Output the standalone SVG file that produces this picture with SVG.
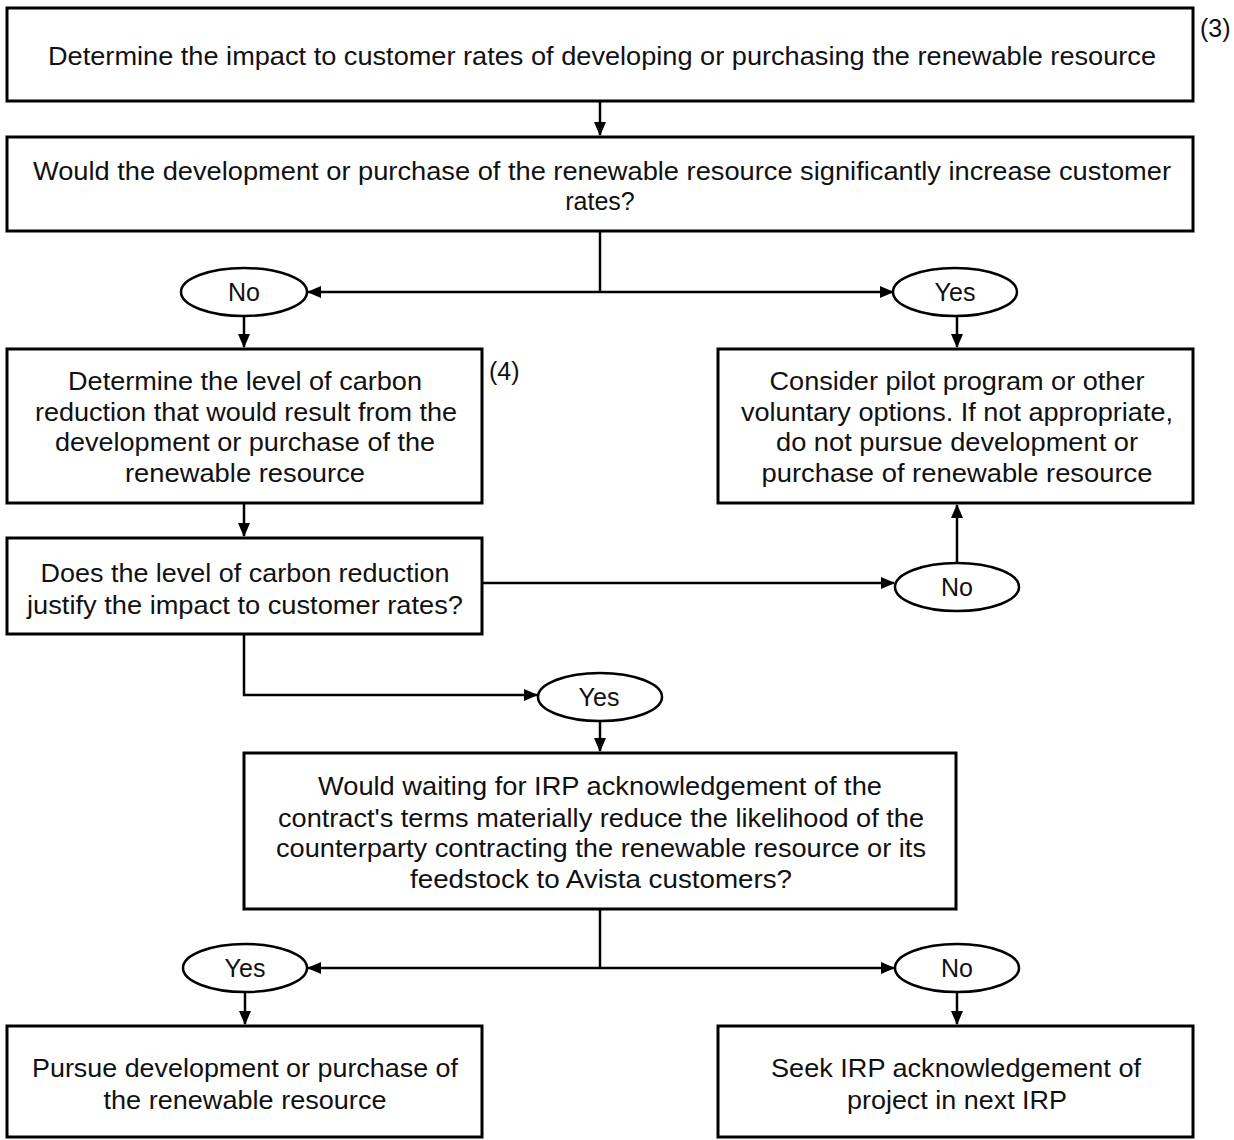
<svg xmlns="http://www.w3.org/2000/svg" width="1234" height="1140" viewBox="0 0 1234 1140">
<style>
.box{fill:#fff;stroke:#000;stroke-width:3}
.oval{fill:#fff;stroke:#000;stroke-width:2.5}
.t{font-family:"Liberation Sans",Arial,sans-serif;font-size:25px;fill:#111;text-anchor:middle}
.n{font-family:"Liberation Sans",Arial,sans-serif;font-size:25px;fill:#111}
.c{fill:none;stroke:#000;stroke-width:2.5}
</style>
<defs>
<marker id="ah" markerUnits="userSpaceOnUse" markerWidth="14" markerHeight="12" refX="13" refY="6" orient="auto">
<path d="M0,0 L14,6 L0,12 Z" fill="#000"/>
</marker>
</defs>
<rect width="1234" height="1140" fill="#fff"/>
<g id="connectors">
<path class="c" d="M600,101 V135" marker-end="url(#ah)"/>
<path class="c" d="M600,231 V292"/>
<path class="c" d="M600,292 H308" marker-end="url(#ah)"/>
<path class="c" d="M600,292 H893" marker-end="url(#ah)"/>
<path class="c" d="M244,316 V347" marker-end="url(#ah)"/>
<path class="c" d="M957,316 V347" marker-end="url(#ah)"/>
<path class="c" d="M244,503 V536" marker-end="url(#ah)"/>
<path class="c" d="M482,583 H894" marker-end="url(#ah)"/>
<path class="c" d="M957,563 V505" marker-end="url(#ah)"/>
<path class="c" d="M244,634 V695 H537" marker-end="url(#ah)"/>
<path class="c" d="M600,721 V751" marker-end="url(#ah)"/>
<path class="c" d="M600,909 V968"/>
<path class="c" d="M600,968 H308" marker-end="url(#ah)"/>
<path class="c" d="M600,968 H894" marker-end="url(#ah)"/>
<path class="c" d="M245,992 V1024" marker-end="url(#ah)"/>
<path class="c" d="M957,992 V1024" marker-end="url(#ah)"/>
</g>
<g id="n1">
<rect class="box" x="7" y="8" width="1186" height="93"/>
<text class="t" x="602" y="65" textLength="1108" lengthAdjust="spacingAndGlyphs">Determine the impact to customer rates of developing or purchasing the renewable resource</text>
<text class="n" x="1200" y="37">(3)</text>
</g>
<g id="n2">
<rect class="box" x="7" y="137" width="1186" height="94"/>
<text class="t" x="602" y="180" textLength="1138" lengthAdjust="spacingAndGlyphs">Would the development or purchase of the renewable resource significantly increase customer</text>
<text class="t" x="600" y="210">rates?</text>
</g>
<g id="o1">
<ellipse class="oval" cx="244" cy="292" rx="63" ry="24"/>
<text class="t" x="244" y="301">No</text>
</g>
<g id="o2">
<ellipse class="oval" cx="955" cy="292" rx="62" ry="24"/>
<text class="t" x="955" y="301">Yes</text>
</g>
<g id="n3">
<rect class="box" x="7" y="349" width="475" height="154"/>
<text class="t" x="245" y="390" textLength="354" lengthAdjust="spacingAndGlyphs">Determine the level of carbon</text>
<text class="t" x="246" y="421" textLength="422" lengthAdjust="spacingAndGlyphs">reduction that would result from the</text>
<text class="t" x="245" y="451" textLength="380" lengthAdjust="spacingAndGlyphs">development or purchase of the</text>
<text class="t" x="245" y="482" textLength="240" lengthAdjust="spacingAndGlyphs">renewable resource</text>
<text class="n" x="489" y="380">(4)</text>
</g>
<g id="n4">
<rect class="box" x="718" y="349" width="475" height="154"/>
<text class="t" x="957" y="390" textLength="375" lengthAdjust="spacingAndGlyphs">Consider pilot program or other</text>
<text class="t" x="957" y="421" textLength="432" lengthAdjust="spacingAndGlyphs">voluntary options. If not appropriate,</text>
<text class="t" x="957" y="451" textLength="362" lengthAdjust="spacingAndGlyphs">do not pursue development or</text>
<text class="t" x="957" y="482" textLength="391" lengthAdjust="spacingAndGlyphs">purchase of renewable resource</text>
</g>
<g id="n5">
<rect class="box" x="7" y="538" width="475" height="96"/>
<text class="t" x="245" y="582" textLength="409" lengthAdjust="spacingAndGlyphs">Does the level of carbon reduction</text>
<text class="t" x="245" y="614" textLength="436" lengthAdjust="spacingAndGlyphs">justify the impact to customer rates?</text>
</g>
<g id="o3">
<ellipse class="oval" cx="957" cy="587" rx="62" ry="24"/>
<text class="t" x="957" y="596">No</text>
</g>
<g id="o4">
<ellipse class="oval" cx="600" cy="697" rx="62" ry="24"/>
<text class="t" x="599" y="706">Yes</text>
</g>
<g id="n6">
<rect class="box" x="244" y="753" width="712" height="156"/>
<text class="t" x="600" y="795" textLength="564" lengthAdjust="spacingAndGlyphs">Would waiting for IRP acknowledgement of the</text>
<text class="t" x="601" y="827" textLength="646" lengthAdjust="spacingAndGlyphs">contract's terms materially reduce the likelihood  of the</text>
<text class="t" x="601" y="857" textLength="650" lengthAdjust="spacingAndGlyphs">counterparty contracting the renewable resource or its</text>
<text class="t" x="601" y="888" textLength="382" lengthAdjust="spacingAndGlyphs">feedstock to Avista customers?</text>
</g>
<g id="o5">
<ellipse class="oval" cx="245" cy="968" rx="62" ry="24"/>
<text class="t" x="245" y="977">Yes</text>
</g>
<g id="o6">
<ellipse class="oval" cx="957" cy="968" rx="62" ry="24"/>
<text class="t" x="957" y="977">No</text>
</g>
<g id="n7">
<rect class="box" x="7" y="1026" width="475" height="111"/>
<text class="t" x="245" y="1077" textLength="426" lengthAdjust="spacingAndGlyphs">Pursue development or purchase of</text>
<text class="t" x="245" y="1109" textLength="283" lengthAdjust="spacingAndGlyphs">the renewable resource</text>
</g>
<g id="n8">
<rect class="box" x="718" y="1026" width="475" height="111"/>
<text class="t" x="956" y="1077" textLength="370" lengthAdjust="spacingAndGlyphs">Seek IRP acknowledgement of</text>
<text class="t" x="957" y="1109" textLength="220" lengthAdjust="spacingAndGlyphs">project in next IRP</text>
</g>
</svg>
